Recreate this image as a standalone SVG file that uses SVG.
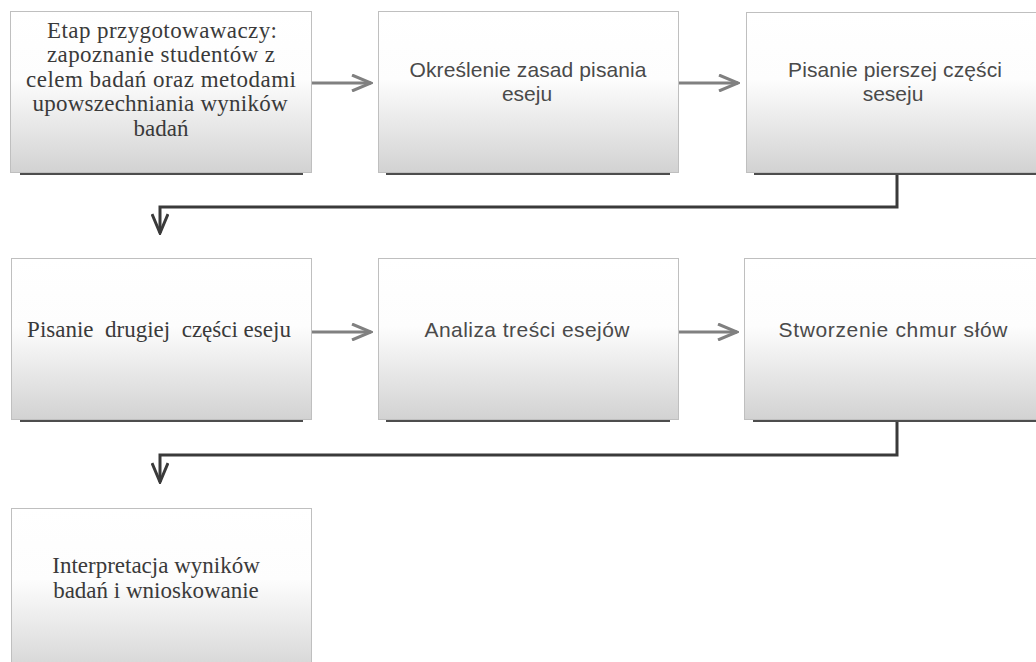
<svg xmlns="http://www.w3.org/2000/svg" width="1036" height="662" viewBox="0 0 1036 662">
<style>
.box{fill:url(#g);stroke:#bfbfbf;stroke-width:1}
.sh{fill:#4d4d4d}
.serif{font-family:"Liberation Serif","Times New Roman",serif;font-size:23px;fill:#3a3a3a;text-anchor:middle}
.sans{font-family:"Liberation Sans",Arial,sans-serif;font-size:21px;fill:#4a4a4a;text-anchor:middle}
.ha{stroke:#808080;stroke-width:3;fill:none;marker-end:url(#mg)}
.el{stroke:#3a3a3a;stroke-width:3;fill:none;marker-end:url(#md)}
</style>
<defs>
<linearGradient id="g" x1="0" y1="0" x2="0" y2="1">
<stop offset="0" stop-color="#ffffff"/>
<stop offset="0.42" stop-color="#fdfdfd"/>
<stop offset="1" stop-color="#d2d2d2"/>
</linearGradient>
<marker id="mg" viewBox="0 0 22 18" refX="20" refY="9" markerWidth="22" markerHeight="18" markerUnits="userSpaceOnUse" orient="auto">
<path d="M1,1 L20,9 L1,17" fill="none" stroke="#808080" stroke-width="3"/>
</marker>
<marker id="md" viewBox="0 0 22 18" refX="20" refY="9" markerWidth="22" markerHeight="18" markerUnits="userSpaceOnUse" orient="auto">
<path d="M1,1 L20,9 L1,17" fill="none" stroke="#3a3a3a" stroke-width="3"/>
</marker>
</defs>
<rect width="1036" height="662" fill="#ffffff"/>
<g id="connectors">
<path class="ha" d="M312,83 L371,83"/>
<path class="ha" d="M678,83 L738,83"/>
<path class="el" d="M897,172 L897,207 L160,207 L160,233"/>
<path class="ha" d="M312,332 L371,332"/>
<path class="ha" d="M678,332 L737,332"/>
<path class="el" d="M897,420 L897,455 L160,455 L160,482"/>
</g>
<g id="n1">
<rect class="sh" x="20" y="172" width="283" height="3"/>
<rect class="box" x="10.5" y="11.5" width="301" height="161"/>
<text class="serif"><tspan x="162" y="38" textLength="230">Etap przygotowawaczy:</tspan><tspan x="161" y="62" textLength="228">zapoznanie studentów z</tspan><tspan x="161" y="87" textLength="270">celem badań oraz metodami</tspan><tspan x="160" y="111" textLength="255">upowszechniania wyników</tspan><tspan x="161" y="136">badań</tspan></text>
</g>
<g id="n2">
<rect class="sh" x="386" y="172" width="284" height="3"/>
<rect class="box" x="378.5" y="11.5" width="300" height="161"/>
<text class="sans"><tspan x="528" y="77" textLength="237">Określenie zasad pisania</tspan><tspan x="527" y="101">eseju</tspan></text>
</g>
<g id="n3">
<rect class="sh" x="754" y="172" width="290" height="3"/>
<rect class="box" x="746.5" y="12.5" width="300" height="160"/>
<text class="sans"><tspan x="895" y="77" textLength="214">Pisanie pierszej części</tspan><tspan x="893" y="101">seseju</tspan></text>
</g>
<g id="n4">
<rect class="sh" x="20" y="419" width="283" height="3"/>
<rect class="box" x="11.5" y="258.5" width="300" height="161"/>
<text class="serif" x="159" y="337" xml:space="preserve">Pisanie  drugiej  części eseju</text>
</g>
<g id="n5">
<rect class="sh" x="386" y="419" width="284" height="3"/>
<rect class="box" x="378.5" y="258.5" width="300" height="161"/>
<text class="sans" x="527" y="337" textLength="205">Analiza treści esejów</text>
</g>
<g id="n6">
<rect class="sh" x="753" y="419" width="290" height="3"/>
<rect class="box" x="744.5" y="258.5" width="300" height="161"/>
<text class="sans" x="893" y="337" textLength="229">Stworzenie chmur słów</text>
</g>
<g id="n7">
<rect class="box" x="11.5" y="508.5" width="300" height="170"/>
<text class="serif"><tspan x="156" y="573">Interpretacja  wyników</tspan><tspan x="156" y="598">badań i wnioskowanie</tspan></text>
</g>
</svg>
